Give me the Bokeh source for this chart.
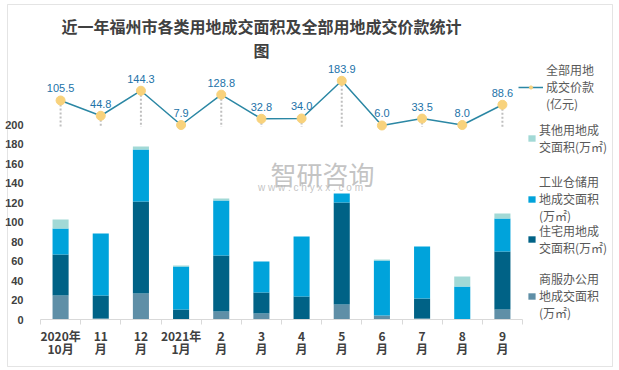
from bokeh.plotting import figure
from bokeh.models import (Range1d, FixedTicker, ColumnDataSource, Legend, LegendItem, Label,
                          LinearAxis, BoxAnnotation)
from bokeh.embed import file_html
from bokeh.resources import INLINE
from bokeh.core.properties import value

months = ["2020年\n10月", "11\n月", "12\n月", "2021年\n1月", "2\n月", "3\n月",
          "4\n月", "5\n月", "6\n月", "7\n月", "8\n月", "9\n月"]
commercial = [24.6, 1.0, 26.7, 0, 8.2, 6.2, 0, 15.4, 4.1, 1.0, 0, 10.3]
residential = [42.1, 23.6, 94.3, 10.3, 57.4, 21.5, 23.6, 104.6, 0, 20.5, 0, 59.4]
industrial = [26.6, 63.6, 53.4, 44.1, 56.4, 31.8, 61.5, 9.2, 56.4, 53.4, 33.8, 33.9]
other = [9.3, 0, 3.0, 1.0, 2.1, 0, 0, 0, 1.0, 0, 10.3, 5.1]
price = [105.5, 44.8, 144.3, 7.9, 128.8, 32.8, 34.0, 183.9, 6.0, 33.5, 8.0, 88.6]
y_ticks = [0, 20, 40, 60, 80, 100, 120, 140, 160, 180, 200]

series_names = ["commercial", "residential", "industrial", "other"]
series_labels = ["商服办公用\n地成交面积\n(万㎡)", "住宅用地成\n交面积(万㎡)",
                 "工业仓储用\n地成交面积\n(万㎡)", "其他用地成\n交面积(万㎡)"]
series_colors = ["#5f8fa7", "#006286", "#00a3db", "#a2d9d6"]
price_label = "全部用地\n成交价款\n(亿元)"
title_text = "近一年福州市各类用地成交面积及全部用地成交价款统计\n图"

W, H = 619, 370
n = len(months)
xs = list(range(n))
src = ColumnDataSource(dict(
    x=xs, commercial=commercial, residential=residential, industrial=industrial,
    other=other, price=price, price_text=[f"{v:.1f}" for v in price],
    base=[0] * n,
))

# pixel geometry of the plotting area (frame spans whole canvas; axes are fixed inside)
px_left, px_right = 40, 522          # category axis extent
px_zero, px_per_unit = 319, 0.975    # bar axis
lp_zero, lp_per_unit = 126.5, 0.2513 # price line axis (hidden)
cat_w = (px_right - px_left) / n

x_start = -0.5 - px_left / cat_w
x_end = -0.5 + (W - px_left) / cat_w
y_start = -(H - px_zero) / px_per_unit
y_end = px_zero / px_per_unit
l_start = -(H - lp_zero) / lp_per_unit
l_end = lp_zero / lp_per_unit

p = figure(width=W, height=H, output_backend="svg", toolbar_location=None,
           x_range=Range1d(x_start, x_end), y_range=Range1d(y_start, y_end),
           x_axis_type=None, y_axis_type=None,
           min_border=0, min_border_left=0, min_border_right=0,
           min_border_top=0, min_border_bottom=0)
p.extra_y_ranges = {"price": Range1d(l_start, l_end)}
p.xgrid.visible = False
p.ygrid.visible = False
p.outline_line_color = None
p.background_fill_color = "white"
p.border_fill_color = "white"

bars = p.vbar_stack(series_names, x="x", width=0.4, color=series_colors, line_width=0, source=src)

drops = p.segment(x0="x", y0="price", x1="x", y1="base", y_range_name="price", source=src,
                  line_color="#bfbfbf", line_width=2, line_dash="2 2")
line_r = p.line("x", "price", y_range_name="price", source=src, line_color="#2b87a4", line_width=1.5)
mark_r = p.scatter("x", "price", y_range_name="price", source=src, size=9,
                   fill_color="#f8d27c", line_color="#f8d27c")
p.text(x="x", y="price", text="price_text", y_range_name="price", source=src,
       text_align="center", text_baseline="bottom", y_offset=-8,
       text_font=value("Liberation Sans"), text_font_size="11px", text_color="#2272a8")

# axes (fixed inside the canvas)
xa = LinearAxis(fixed_location=0, bounds=(-0.5, n - 0.5))
xa.ticker = FixedTicker(ticks=xs, minor_ticks=[i - 0.5 for i in range(n + 1)])
xa.major_label_overrides = {i: m for i, m in enumerate(months)}
xa.axis_line_color = "#d9d9d9"
xa.major_tick_line_color = None
xa.major_tick_out = 0
xa.major_tick_in = 0
xa.minor_tick_line_color = "#d9d9d9"
xa.minor_tick_in = 0
xa.minor_tick_out = 5
xa.major_label_standoff = 2
xa.major_label_text_font = "Noto Sans CJK SC"
xa.major_label_text_font_style = "bold"
xa.major_label_text_font_size = "12px"
xa.major_label_text_color = "#404040"
xa.major_label_text_line_height = 0.82
p.add_layout(xa, "below")

ya = LinearAxis(fixed_location=-0.5, bounds=(0, 200))
ya.ticker = FixedTicker(ticks=y_ticks)
ya.axis_line_color = None
ya.major_tick_line_color = None
ya.minor_tick_line_color = None
ya.major_tick_out = 0
ya.major_tick_in = 0
ya.major_label_standoff = 17
ya.major_label_text_font = "Liberation Sans"
ya.major_label_text_font_style = "bold"
ya.major_label_text_font_size = "11px"
ya.major_label_text_color = "#404040"
p.add_layout(ya, "left")

# outer border
p.add_layout(BoxAnnotation(left=7, right=612, bottom=4, top=366,
                           left_units="screen", right_units="screen",
                           bottom_units="screen", top_units="screen",
                           fill_alpha=0, line_color="#a6a6a6", line_width=1))

# title
p.add_layout(Label(x=261, y=357, x_units="screen", y_units="screen", text=title_text,
                   text_align="center", text_baseline="top", text_font="Noto Sans CJK SC",
                   text_font_style="bold", text_font_size="16px", text_color="#404040",
                   text_line_height=1.03))

# watermark
p.add_layout(Label(x=270, y=197, x_units="screen", y_units="screen", text="智研咨询",
                   text_align="left", text_baseline="middle", text_font="Noto Sans CJK SC",
                   text_font_size="26px", text_color="#b4b4b4", text_alpha=0.8))
p.add_layout(Label(x=310, y=183, x_units="screen", y_units="screen", text="w w w . c h y x x . c o m",
                   text_align="center", text_baseline="middle", text_font="Liberation Sans",
                   text_font_size="10px", text_color="#b4b4b4", text_alpha=0.8))

def add_legend(items, loc, gw):
    lg = Legend(items=items, location=loc, orientation="vertical",
                glyph_width=gw, glyph_height=8, label_standoff=3, spacing=0,
                padding=0, margin=0, border_line_color=None, background_fill_alpha=0,
                label_text_font="Noto Sans CJK SC", label_text_font_size="12px",
                label_text_color="#595959", label_text_line_height=1.3)
    p.add_layout(lg, "center")

add_legend([LegendItem(label=price_label, renderers=[line_r, mark_r])], (518, 258), 25)
add_legend([LegendItem(label=series_labels[3], renderers=[bars[3]])], (527, 215), 9)
add_legend([LegendItem(label=series_labels[2], renderers=[bars[2]])], (527, 146), 9)
add_legend([LegendItem(label=series_labels[1], renderers=[bars[1]])], (527, 114), 9)
add_legend([LegendItem(label=series_labels[0], renderers=[bars[0]])], (527, 49), 9)

open("out.html", "w").write(file_html(p, INLINE))
